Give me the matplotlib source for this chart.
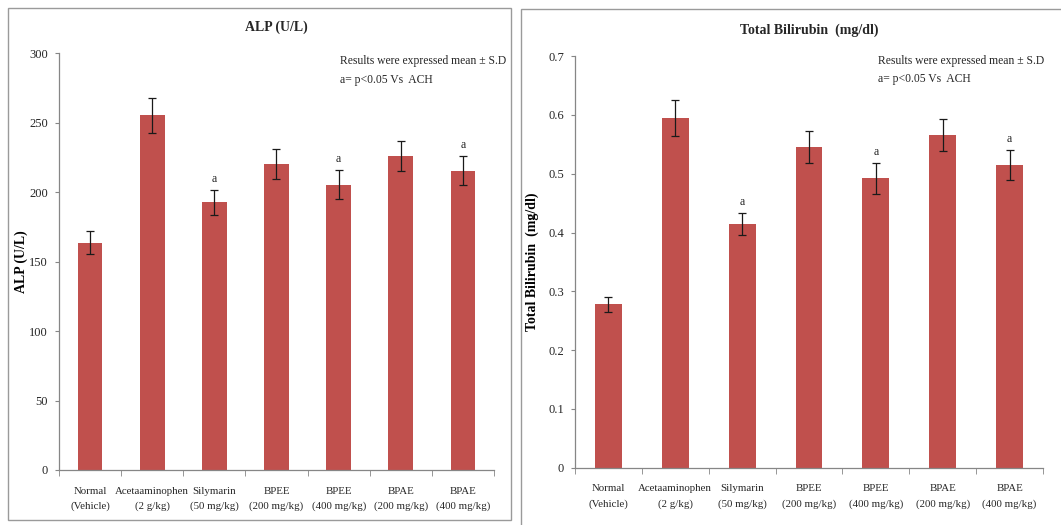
"""Two-panel bar chart: ALP and total bilirubin by treatment group (mean +/- SD)."""

import matplotlib

matplotlib.use("Agg")
import matplotlib.pyplot as plt
from matplotlib.patches import Rectangle
from matplotlib.ticker import FixedLocator

groups = [
    "Normal\n(Vehicle)",
    "Acetaaminophen\n(2 g/kg)",
    "Silymarin\n(50 mg/kg)",
    "BPEE\n(200 mg/kg)",
    "BPEE\n(400 mg/kg)",
    "BPAE\n(200 mg/kg)",
    "BPAE\n(400 mg/kg)",
]

alp_mean = [163.5, 255.3, 192.6, 220.3, 205.2, 226.0, 215.3]
alp_sd = [8.3, 12.5, 9.0, 11.0, 10.5, 11.0, 10.5]
alp_sig = ["", "", "a", "", "a", "", "a"]

bili_mean = [0.278, 0.595, 0.414, 0.545, 0.492, 0.566, 0.515]
bili_sd = [0.013, 0.030, 0.019, 0.027, 0.026, 0.027, 0.025]
bili_sig = ["", "", "a", "", "a", "", "a"]

note_lines = ["Results were expressed mean \u00b1 S.D", "a= p<0.05 Vs  ACH"]

BAR_COLOR = "#C0504D"
AXIS_GREY = "#868686"
TEXT_COLOR = "#262626"
FONT = "Liberation Serif"

plt.rcParams["font.family"] = FONT


def draw_panel(ax, means, sds, sig, ymax, ystep, title, ylabel, fmt, label_x,
               note_x, note_y):
    x = list(range(len(means)))
    ax.bar(x, means, width=0.4, color=BAR_COLOR, zorder=2)
    ax.errorbar(x, means, yerr=sds, fmt="none", ecolor="#1a1a1a",
                elinewidth=0.9, capsize=3, capthick=0.9, zorder=3)
    for xi, m, s, lab in zip(x, means, sds, sig):
        if lab:
            ax.text(xi, m + s + ymax * 0.012, lab, ha="center", va="bottom",
                    fontsize=8.5, color=TEXT_COLOR)

    ax.set_xlim(-0.5, len(means) - 0.5)
    ax.set_ylim(0, ymax)
    ticks = [i * ystep for i in range(int(round(ymax / ystep)) + 1)]
    ax.set_yticks(ticks)
    ax.set_yticklabels([fmt(t) for t in ticks])
    ax.set_xticks(x)
    ax.set_xticklabels(groups, linespacing=1.75)
    ax.xaxis.set_minor_locator(FixedLocator([i - 0.5 for i in range(len(means) + 1)]))
    ax.tick_params(axis="x", which="major", length=0, pad=12, labelsize=7.8,
                   colors=TEXT_COLOR)
    ax.tick_params(axis="x", which="minor", length=4, color=AXIS_GREY,
                   direction="out")
    ax.tick_params(axis="y", length=3, color=AXIS_GREY, labelsize=9,
                   colors=TEXT_COLOR, pad=5)

    for side in ("top", "right"):
        ax.spines[side].set_visible(False)
    for side in ("left", "bottom"):
        ax.spines[side].set_color(AXIS_GREY)
        ax.spines[side].set_linewidth(0.9)

    ax.set_title(title, fontsize=10, fontweight="bold", color=TEXT_COLOR, pad=16)
    ax.set_ylabel(ylabel, fontsize=10, fontweight="bold", color="black")
    ax.yaxis.set_label_coords(label_x, 0.5)
    for line, ny in zip(note_lines, note_y):
        ax.text(note_x, ny, line, transform=ax.transAxes, ha="left",
                va="center", fontsize=8.4, color=TEXT_COLOR)


fig = plt.figure(figsize=(10.61, 5.25), dpi=100)

# panel frames, as in the original screenshot
fig.patches.append(Rectangle((8 / 1061, 1 - 520 / 525), 503 / 1061, 512 / 525,
                             transform=fig.transFigure, fill=False,
                             edgecolor="#9a9a9a", linewidth=1.0))
fig.patches.append(Rectangle((521 / 1061, -0.02), 0.6, 1 - 9 / 525 + 0.02,
                             transform=fig.transFigure, fill=False,
                             edgecolor="#9a9a9a", linewidth=1.0))

ax1 = fig.add_axes([0.0556, 0.1048, 0.410, 0.794])
draw_panel(ax1, alp_mean, alp_sd, alp_sig, 300, 50, "ALP (U/L)", "ALP (U/L)",
           lambda v: f"{v:.0f}", -0.071, 0.645, (0.981, 0.935))

ax2 = fig.add_axes([0.542, 0.1091, 0.441, 0.784])
draw_panel(ax2, bili_mean, bili_sd, bili_sig, 0.7, 0.1, "Total Bilirubin  (mg/dl)",
           "Total Bilirubin  (mg/dl)", lambda v: "0" if v == 0 else f"{v:.1f}",
           -0.077, 0.648, (0.988, 0.944))

fig.savefig("out.png", dpi=100)
